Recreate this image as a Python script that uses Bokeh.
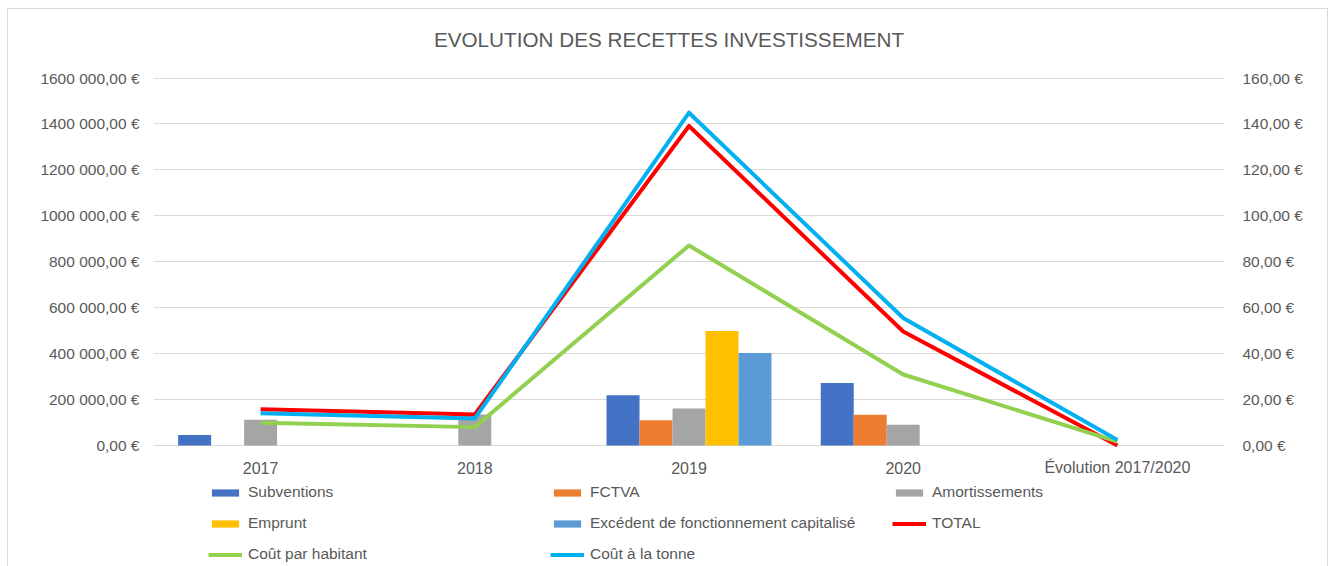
from bokeh.plotting import figure
from bokeh.models import (Range1d, LinearAxis, FixedTicker, Legend, LegendItem,
                          ColumnDataSource, Label)
from bokeh.core.properties import value
from bokeh.transform import dodge
from bokeh.embed import file_html
from bokeh.resources import INLINE

# ---- data ----
categories = ["2017", "2018", "2019", "2020", "Évolution 2017/2020"]
subventions = [45600, 0, 218700, 272600, 0]
fctva = [0, 0, 110000, 133500, 0]
amortissements = [112000, 135000, 160900, 90000, 0]
emprunt = [0, 0, 498600, 0, 0]
excedent = [0, 0, 403000, 0, 0]
total = [157600, 135000, 1391200, 496100, 0]
cout_habitant = [9.9, 8.0, 87.1, 30.9, 1.7]
cout_tonne = [14.0, 11.8, 144.9, 55.5, 2.4]

left_ticks = [0, 200000, 400000, 600000, 800000, 1000000, 1200000, 1400000, 1600000]
left_labels = ["0,00 €", "200 000,00 €", "400 000,00 €", "600 000,00 €", "800 000,00 €",
               "1000 000,00 €", "1200 000,00 €", "1400 000,00 €", "1600 000,00 €"]
right_ticks = [0, 20, 40, 60, 80, 100, 120, 140, 160]
right_labels = ["0,00 €", "20,00 €", "40,00 €", "60,00 €", "80,00 €",
                "100,00 €", "120,00 €", "140,00 €", "160,00 €"]

title_text = "EVOLUTION DES RECETTES INVESTISSEMENT"

FONT = "Liberation Sans"
TXT = "#595959"
GRID = "#d9d9d9"

# ---- layout (pixels) ----
W, H = 1321, 558
LEFT, RIGHT = 145, 105
PX_TOP_TICK = 68.5     # px from figure top to the top gridline
PX_ZERO = 436.0        # px from figure top to the zero line
ymax_l, ymax_r = left_ticks[-1], right_ticks[-1]
per_px_l = ymax_l / (PX_ZERO - PX_TOP_TICK)
per_px_r = ymax_r / (PX_ZERO - PX_TOP_TICK)

centers = [i + 0.5 for i in range(len(categories))]
src = ColumnDataSource(dict(x=centers, sub=subventions, fct=fctva, amo=amortissements,
                            emp=emprunt, exc=excedent, tot=total,
                            hab=cout_habitant, ton=cout_tonne,
                            zero=[0] * len(categories), cat=categories))

p = figure(width=W, height=H, output_backend="svg", toolbar_location=None,
           x_range=Range1d(0, len(categories)),
           y_range=Range1d(-(H - PX_ZERO) * per_px_l, ymax_l + PX_TOP_TICK * per_px_l),
           min_border_left=LEFT, min_border_right=RIGHT, min_border_top=0,
           min_border_bottom=0, margin=(8, 0, 0, 7))
p.extra_y_ranges = {"right": Range1d(-(H - PX_ZERO) * per_px_r,
                                     ymax_r + PX_TOP_TICK * per_px_r)}
p.outline_line_color = None
p.background_fill_color = "white"
p.border_fill_color = "white"
p.styles = {"border-top": "1px solid #d9d9d9", "border-left": "1px solid #d9d9d9",
            "border-right": "1px solid #d9d9d9"}

# axes
p.xaxis.visible = False
p.yaxis.ticker = FixedTicker(ticks=left_ticks)
p.yaxis.major_label_overrides = {t: lab for t, lab in zip(left_ticks, left_labels)}

raxis = LinearAxis(y_range_name="right", ticker=FixedTicker(ticks=right_ticks))
raxis.major_label_overrides = {t: lab for t, lab in zip(right_ticks, right_labels)}
p.add_layout(raxis, "right")

for ax in [p.yaxis[0], raxis]:
    ax.axis_line_color = None
    ax.major_tick_line_color = None
    ax.minor_tick_line_color = None
    ax.major_label_text_font = FONT
    ax.major_label_text_font_size = "15.5px"
    ax.major_label_text_color = TXT
p.yaxis[0].major_label_standoff = 8
raxis.major_label_standoff = 12

p.xgrid.visible = False
p.ygrid.ticker = FixedTicker(ticks=left_ticks)
p.ygrid.grid_line_color = GRID
p.ygrid.grid_line_width = 1

# category labels (x axis)
p.text(x="x", y="zero", text="cat", source=src, y_offset=22, text_align="center",
       text_baseline="middle", text_font=value(FONT), text_font_size="16px",
       text_color=TXT)

# bars
w = 0.154
bar_specs = [("sub", "#4472C4", -2), ("fct", "#ED7D31", -1), ("amo", "#A5A5A5", 0),
             ("emp", "#FFC000", 1), ("exc", "#5B9BD5", 2)]
bars = []
for col, color, k in bar_specs:
    r = p.vbar(x=dodge("x", k * w, range=p.x_range), top=col, width=w, source=src,
               fill_color=color, line_color=None)
    bars.append(r)

# lines
r_tot = p.line("x", "tot", source=src, line_color="#FF0000", line_width=4, line_join="round")
r_hab = p.line("x", "hab", source=src, line_color="#92D050", line_width=4,
               line_join="round", y_range_name="right")
r_ton = p.line("x", "ton", source=src, line_color="#00B0F0", line_width=4,
               line_join="round", y_range_name="right")

# legend is filled column by column
items = [
    LegendItem(label="Subventions", renderers=[bars[0]]),
    LegendItem(label="Emprunt", renderers=[bars[3]]),
    LegendItem(label="Coût par habitant", renderers=[r_hab]),
    LegendItem(label="FCTVA", renderers=[bars[1]]),
    LegendItem(label="Excédent de fonctionnement capitalisé", renderers=[bars[4]]),
    LegendItem(label="Coût à la tonne", renderers=[r_ton]),
    LegendItem(label="Amortissements", renderers=[bars[2]]),
    LegendItem(label="TOTAL", renderers=[r_tot]),
]
legend = Legend(items=items, ncols=3, location=(55, 4),
                glyph_width=34, glyph_height=9, label_standoff=6,
                label_height=18, label_width=289, spacing=13, padding=0, margin=0,
                border_line_color=None, background_fill_alpha=0,
                label_text_font=FONT, label_text_font_size="15.5px",
                label_text_color=TXT, click_policy="none")
p.add_layout(legend, "center")

p.add_layout(Label(x=len(categories) / 2, y=ymax_l, x_offset=-20, y_offset=39,
                   text=title_text, text_align="center", text_baseline="middle",
                   text_font=FONT, text_font_size="20.7px", text_color=TXT))

open("out.html", "w").write(file_html(p, INLINE))
